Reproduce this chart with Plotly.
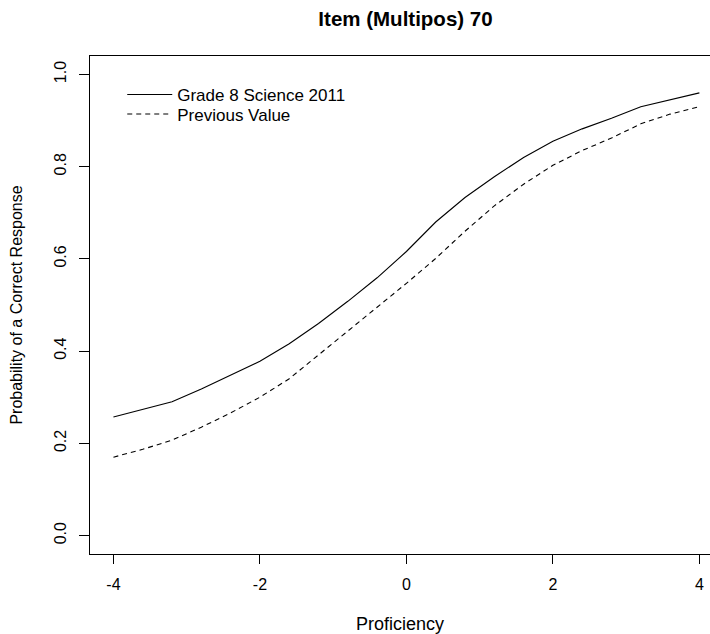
import plotly.graph_objects as go

# Item characteristic curves for item 70 (multiple-choice, positive key)
proficiency = [-4.0, -3.6, -3.2, -2.8, -2.4, -2.0, -1.6, -1.2, -0.8, -0.4, 0.0,
               0.4, 0.8, 1.2, 1.6, 2.0, 2.4, 2.8, 3.2, 3.6, 4.0]
grade8_science_2011 = [0.257, 0.273, 0.290, 0.318, 0.348, 0.378, 0.416, 0.460,
                       0.508, 0.559, 0.616, 0.680, 0.733, 0.778, 0.820, 0.855,
                       0.882, 0.905, 0.930, 0.945, 0.960]
previous_value = [0.170, 0.187, 0.207, 0.235, 0.266, 0.300, 0.340, 0.392,
                  0.443, 0.494, 0.547, 0.601, 0.660, 0.715, 0.762, 0.803,
                  0.835, 0.862, 0.893, 0.914, 0.930]

x_ticks = [-4, -2, 0, 2, 4]
x_tick_text = ["-4", "-2", "0", "2", "4"]
y_ticks = [0.0, 0.2, 0.4, 0.6, 0.8, 1.0]
y_tick_text = ["0.0", "0.2", "0.4", "0.6", "0.8", "1.0"]

FONT = "Liberation Sans, Arial, sans-serif"

fig = go.Figure()
fig.add_trace(go.Scatter(
    x=proficiency, y=grade8_science_2011, mode="lines",
    name="Grade 8 Science 2011", legend="legend",
    line=dict(color="black", width=1.1),
))
fig.add_trace(go.Scatter(
    x=proficiency, y=previous_value, mode="lines",
    name="Previous Value", legend="legend2",
    line=dict(color="black", width=1.1, dash="5px,4px"),
))

axis_common = dict(
    showgrid=False, zeroline=False, showline=True, linecolor="black",
    linewidth=1, ticks="outside", tickcolor="black", tickwidth=1,
    tickfont=dict(family=FONT, size=16, color="black"),
)

legend_common = dict(
    xanchor="left", yanchor="middle", x=0.052,
    bgcolor="rgba(0,0,0,0)", borderwidth=0,
    font=dict(family=FONT, size=17, color="black"),
    itemwidth=45,
)

fig.update_layout(
    width=710, height=634,
    margin=dict(l=90, r=0, t=56, b=80),
    paper_bgcolor="white", plot_bgcolor="white",
    font=dict(family=FONT, color="black"),
    title=dict(
        text="<b>Item (Multipos) 70</b>",
        font=dict(family=FONT, size=20.5, color="black"),
        xref="container", yref="container",
        x=405.5 / 710, y=1 - 19 / 634, xanchor="center", yanchor="middle",
    ),
    xaxis=dict(
        range=[-4.32, 4.145], tickvals=x_ticks, ticktext=x_tick_text,
        ticklen=9, mirror=True, ticklabelstandoff=7,
        title=dict(text="Proficiency", font=dict(family=FONT, size=18),
                   standoff=25),
        **axis_common,
    ),
    yaxis=dict(
        range=[-0.04, 1.04], tickvals=y_ticks, ticktext=y_tick_text,
        ticklen=10, tickangle=-90, mirror=False, ticklabelstandoff=7,
        title=dict(text="Probability of a Correct Response",
                   font=dict(family=FONT, size=16), standoff=24),
        **axis_common,
    ),
    legend=dict(y=1 - (95 - 56) / 498, **legend_common),
    legend2=dict(y=1 - (114.5 - 56) / 498, **legend_common),
    showlegend=True,
)

fig.write_html("out.html")
